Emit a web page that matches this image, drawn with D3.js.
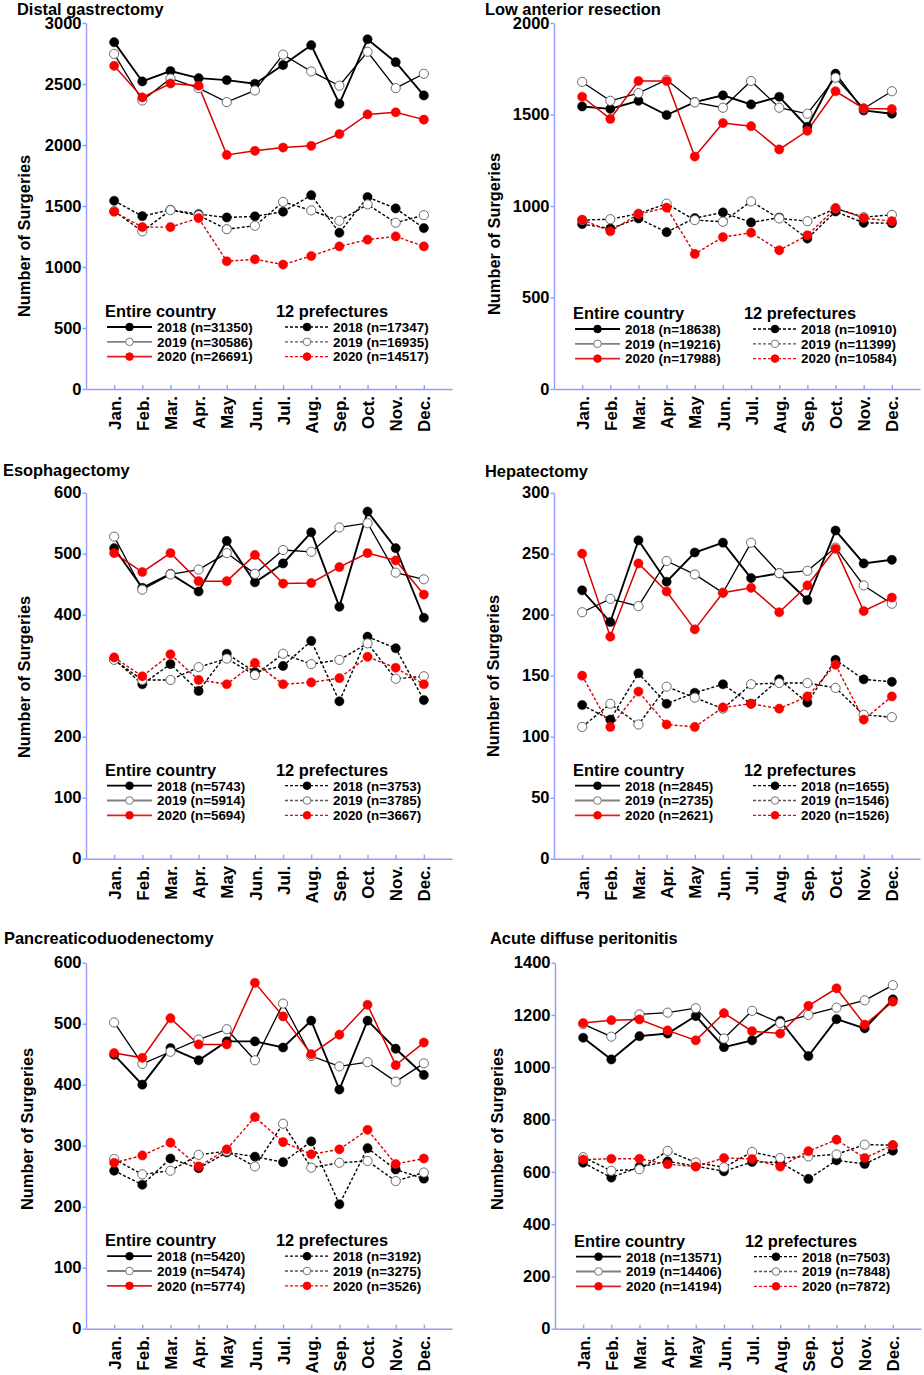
<!DOCTYPE html>
<html>
<head>
<meta charset="utf-8">
<script src="https://cdn.jsdelivr.net/npm/d3@7"></script>
<style>
  body { margin: 0; background: #fff; }
  svg { display: block; font-family: "Liberation Sans", Arial, sans-serif; }
</style>
</head>
<body>
<script>
// month categories and legend years
const months = ["Jan.", "Feb.", "Mar.", "Apr.", "May", "Jun.", "Jul.", "Aug.", "Sep.", "Oct.", "Nov.", "Dec."];
const years = ["2018", "2019", "2020"];

const panelTitles = ["Distal gastrectomy", "Low anterior resection", "Esophagectomy",
    "Hepatectomy", "Pancreaticoduodenectomy", "Acute diffuse peritonitis"];
const yMax = [3000, 2000, 600, 300, 600, 1400];
const yStep = [500, 500, 100, 50, 100, 200];

// n= values shown in the legends
const nEntire = [[31350, 30586, 26691], [18638, 19216, 17988], [5743, 5914, 5694],
    [2845, 2735, 2621], [5420, 5474, 5774], [13571, 14406, 14194]];
const nPref = [[17347, 16935, 14517], [10910, 11399, 10584], [3753, 3785, 3667],
    [1655, 1546, 1526], [3192, 3275, 3526], [7503, 7848, 7872]];

// monthly counts, [2018, 2019, 2020]
const distalEntire = [
    [2843, 2521, 2606, 2548, 2532, 2502, 2655, 2818, 2338, 2867, 2679, 2406],
    [2747, 2365, 2545, 2466, 2352, 2447, 2741, 2603, 2486, 2764, 2466, 2584],
    [2649, 2390, 2504, 2486, 1919, 1952, 1979, 1993, 2090, 2251, 2268, 2208]];
const distalPref = [
    [1543, 1417, 1469, 1433, 1406, 1415, 1453, 1589, 1281, 1573, 1480, 1319],
    [1458, 1292, 1466, 1423, 1310, 1338, 1534, 1464, 1379, 1513, 1363, 1425],
    [1453, 1327, 1327, 1401, 1047, 1063, 1020, 1090, 1169, 1224, 1251, 1169]];

const larEntire = [
    [1544, 1531, 1575, 1497, 1568, 1605, 1555, 1597, 1433, 1723, 1522, 1504],
    [1678, 1575, 1617, 1690, 1566, 1537, 1683, 1537, 1504, 1701, 1533, 1627],
    [1597, 1476, 1683, 1683, 1270, 1453, 1436, 1309, 1411, 1627, 1533, 1530]];
const larPref = [
    [901, 877, 932, 857, 934, 965, 910, 937, 822, 970, 908, 906],
    [923, 928, 958, 1013, 923, 914, 1025, 932, 917, 987, 939, 952],
    [925, 862, 956, 991, 738, 830, 854, 758, 840, 988, 934, 917]];

const esoEntire = [
    [509, 444, 467, 438, 521, 453, 484, 535, 413, 569, 509, 395],
    [528, 441, 466, 474, 501, 467, 506, 503, 543, 550, 469, 458],
    [501, 470, 501, 455, 455, 498, 451, 452, 478, 501, 489, 433]];
const esoPref = [
    [327, 286, 319, 275, 336, 306, 316, 357, 258, 364, 345, 260],
    [326, 293, 293, 314, 328, 301, 336, 319, 326, 353, 295, 299],
    [330, 299, 335, 293, 286, 321, 286, 289, 296, 331, 313, 286]];

const hepEntire = [
    [220, 194, 261, 227, 251, 259, 230, 234, 212, 269, 242, 245],
    [202, 213, 207, 244, 233, 218, 259, 234, 236, 255, 224, 209],
    [250, 182, 242, 219, 188, 218, 222, 202, 224, 254, 203, 214]];
const hepPref = [
    [126, 114, 152, 127, 136, 143, 127, 147, 128, 163, 147, 145],
    [108, 127, 110, 141, 132, 123, 143, 144, 144, 140, 118, 116],
    [150, 108, 137, 110, 108, 124, 127, 123, 133, 159, 114, 133]];

const pdEntire = [
    [449, 400, 460, 440, 471, 471, 461, 505, 392, 505, 459, 416],
    [502, 434, 454, 474, 491, 440, 533, 447, 430, 437, 405, 435],
    [452, 444, 509, 466, 466, 567, 512, 450, 482, 531, 432, 469]];
const pdPref = [
    [259, 236, 279, 263, 289, 282, 273, 307, 204, 296, 261, 246],
    [278, 253, 259, 285, 291, 266, 336, 264, 272, 275, 242, 256],
    [272, 284, 305, 266, 294, 347, 306, 286, 294, 326, 270, 279]];

const adpEntire = [
    [1113, 1030, 1119, 1129, 1196, 1077, 1103, 1178, 1043, 1184, 1149, 1260],
    [1165, 1117, 1202, 1209, 1226, 1110, 1216, 1169, 1200, 1228, 1256, 1314],
    [1169, 1180, 1183, 1141, 1103, 1207, 1138, 1129, 1235, 1302, 1163, 1251]];
const adpPref = [
    [635, 578, 619, 640, 622, 602, 638, 636, 573, 644, 630, 681],
    [656, 604, 610, 680, 636, 617, 676, 653, 659, 667, 704, 702],
    [647, 650, 650, 629, 620, 653, 649, 620, 679, 723, 653, 702]];

const entireSeries = [distalEntire, larEntire, esoEntire, hepEntire, pdEntire, adpEntire];
const prefSeries = [distalPref, larPref, esoPref, hepPref, pdPref, adpPref];

// layout of the 2x3 grid
const axisX = [86, 554, 86, 554, 86, 555];
const plotTop = [23, 23, 492.7, 492.7, 962.7, 962.7];
const plotW = 366, plotH = 366;
const titlePos = [[17, 14.5], [485, 14.5], [3, 476], [485, 477], [4, 944], [490, 944]];
const ylabPos = [[30, 317], [500, 315], [30, 758], [499, 757], [33, 1210], [503, 1210]];
const legendRow = [304, 306, 293, 293, 293.5, 294];

const FONT = "bold";
const axisColor = "#9a9af2";
const lineColor = ["#000", "#000", "#d80000"];
const lineWidth = [1.9, 1.3, 1.5];
const dotFill = ["#000", "#fff", "#ff0000"];
const dotStroke = ["#000", "#6a6a6a", "#ff0000"];

const svg = d3.select("body").append("svg")
    .attr("width", 924)
    .attr("height", 1375);

function drawPanel(i) {
    const g = svg.append("g").attr("transform", `translate(${axisX[i]},${plotTop[i]})`);

    const x = d3.scalePoint().domain(months).range([0, plotW]).padding(1);
    const y = d3.scaleLinear().domain([0, yMax[i]]).range([plotH, 0]);

    // y axis
    const yAxis = g.append("g")
        .call(d3.axisLeft(y)
            .tickValues(d3.range(0, yMax[i] + 1, yStep[i]))
            .tickSizeInner(3.5).tickSizeOuter(0).tickPadding(1)
            .tickFormat(d3.format("d")));
    yAxis.selectAll("text")
        .attr("font-size", "16.5px").attr("font-weight", FONT).attr("fill", "#000");

    // x axis
    const xAxis = g.append("g")
        .attr("transform", `translate(0,${plotH})`)
        .call(d3.axisBottom(x).tickSizeInner(-4).tickSizeOuter(0));
    xAxis.selectAll("text")
        .attr("transform", "rotate(-90)")
        .attr("x", -7).attr("y", 0).attr("dy", "0.36em")
        .style("text-anchor", "end")
        .attr("font-size", "17px").attr("font-weight", FONT).attr("fill", "#000");

    g.selectAll(".domain, .tick line")
        .attr("stroke", axisColor).attr("stroke-width", 1.4);

    const line = d3.line()
        .x((d, k) => x(months[k]))
        .y(d => y(d));

    // 12 prefectures (dotted), then entire country (solid)
    [[prefSeries[i], "3,2"], [entireSeries[i], null]].forEach(([series, dash]) => {
        [0, 1, 2].forEach(k => {
            g.append("path")
                .datum(series[k])
                .attr("d", line)
                .attr("fill", "none")
                .attr("stroke", lineColor[k])
                .attr("stroke-width", dash ? 1.4 : lineWidth[k])
                .attr("stroke-dasharray", dash);
        });
        [0, 1, 2].forEach(k => {
            g.append("g").selectAll("circle")
                .data(series[k])
                .join("circle")
                .attr("cx", (d, m) => x(months[m]))
                .attr("cy", d => y(d))
                .attr("r", 4.6)
                .attr("fill", dotFill[k])
                .attr("stroke", dotStroke[k])
                .attr("stroke-width", k === 1 ? 1 : 0.5);
        });
    });

    // legend
    const cols = [
        { label: "Entire country", tx: 19, l0: 21, l1: 66, mx: 43.5, nx: 71, dash: null,
          colors: ["#000", "#808080", "#e02020"], n: nEntire[i] },
        { label: "12 prefectures", tx: 190, l0: 199, l1: 243, mx: 221, nx: 247, dash: "3,2",
          colors: ["#000", "#555", "#ff0000"], n: nPref[i] }
    ];
    const ly = legendRow[i];
    cols.forEach(c => {
        g.append("text")
            .attr("x", c.tx).attr("y", ly - 10)
            .attr("font-size", "16.4px").attr("font-weight", FONT)
            .text(c.label);
        [0, 1, 2].forEach(k => {
            const yy = ly + k * 14.8;
            g.append("line")
                .attr("x1", c.l0).attr("x2", c.l1)
                .attr("y1", yy).attr("y2", yy)
                .attr("stroke", c.colors[k])
                .attr("stroke-width", c.dash ? 1.3 : 1.8)
                .attr("stroke-dasharray", c.dash);
            g.append("circle")
                .attr("cx", c.mx).attr("cy", yy).attr("r", 3.8)
                .attr("fill", dotFill[k])
                .attr("stroke", k === 1 ? "#777" : dotStroke[k])
                .attr("stroke-width", 1);
            g.append("text")
                .attr("x", c.nx).attr("y", yy).attr("dy", "0.36em")
                .attr("font-size", "13.4px").attr("font-weight", FONT)
                .text(`${years[k]} (n=${c.n[k]})`);
        });
    });

    // panel title and y label
    svg.append("text")
        .attr("x", titlePos[i][0]).attr("y", titlePos[i][1])
        .attr("font-size", "16.4px").attr("font-weight", FONT)
        .text(panelTitles[i]);

    svg.append("text")
        .attr("transform", `translate(${ylabPos[i][0]},${ylabPos[i][1]}) rotate(-90)`)
        .attr("font-size", "16.4px").attr("font-weight", FONT)
        .text("Number of Surgeries");
}

panelTitles.forEach((t, i) => drawPanel(i));
</script>
</body>
</html>
